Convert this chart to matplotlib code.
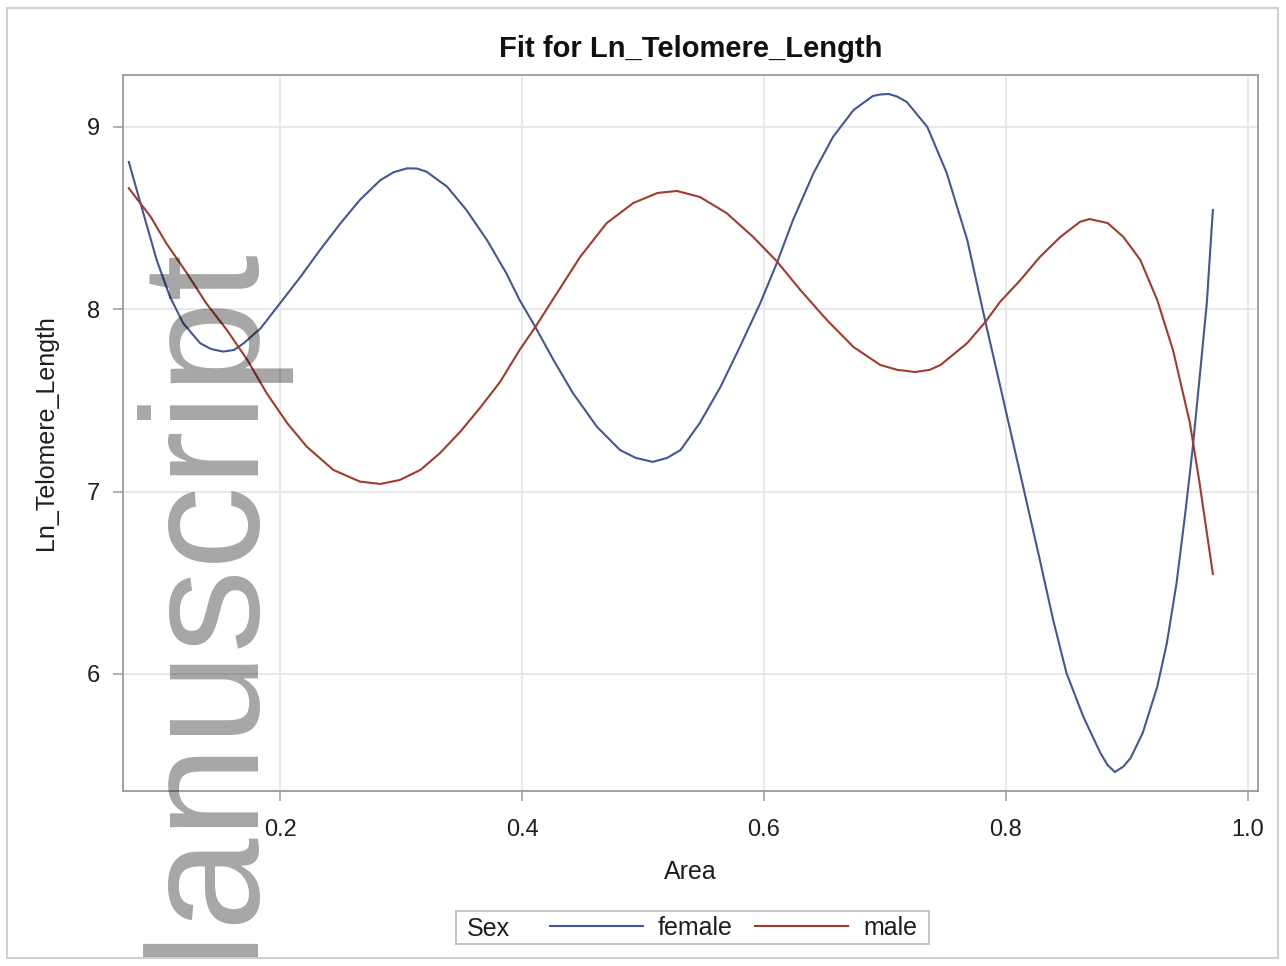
import matplotlib
matplotlib.use("Agg")
import matplotlib.pyplot as plt
from matplotlib.patches import Rectangle
from matplotlib.transforms import Bbox

plt.rcParams['font.family'] = ['Liberation Sans', 'DejaVu Sans']

# ---- data ----
female_area = [0.075, 0.087, 0.098, 0.109, 0.120, 0.134, 0.143, 0.153, 0.162, 0.170,
               0.184, 0.200, 0.217, 0.233, 0.250, 0.266, 0.283, 0.294, 0.305, 0.313,
               0.321, 0.338, 0.354, 0.371, 0.387, 0.398, 0.411, 0.426, 0.442, 0.462,
               0.481, 0.494, 0.508, 0.520, 0.531, 0.547, 0.564, 0.580, 0.597, 0.611,
               0.624, 0.641, 0.657, 0.674, 0.690, 0.696, 0.703, 0.710, 0.718, 0.735,
               0.751, 0.768, 0.783, 0.795, 0.812, 0.828, 0.839, 0.850, 0.864, 0.878,
               0.884, 0.890, 0.897, 0.903, 0.913, 0.925, 0.933, 0.941, 0.948, 0.954,
               0.960, 0.966, 0.971]
female_ln = [8.808, 8.527, 8.271, 8.069, 7.923, 7.814, 7.782, 7.768, 7.777, 7.814,
             7.896, 8.033, 8.179, 8.325, 8.472, 8.600, 8.709, 8.752, 8.773, 8.772,
             8.755, 8.673, 8.545, 8.380, 8.198, 8.051, 7.903, 7.722, 7.541, 7.355,
             7.228, 7.185, 7.163, 7.185, 7.228, 7.377, 7.574, 7.793, 8.035, 8.260,
             8.490, 8.748, 8.945, 9.093, 9.170, 9.178, 9.181, 9.167, 9.137, 9.000,
             8.748, 8.380, 7.931, 7.585, 7.091, 6.625, 6.296, 6.005, 5.764, 5.567,
             5.500, 5.462, 5.492, 5.539, 5.676, 5.929, 6.170, 6.499, 6.872, 7.218,
             7.623, 8.035, 8.545]

male_area = [0.075, 0.093, 0.106, 0.123, 0.139, 0.156, 0.173, 0.189, 0.206, 0.222,
             0.244, 0.266, 0.283, 0.299, 0.316, 0.332, 0.349, 0.365, 0.382, 0.398,
             0.411, 0.429, 0.448, 0.470, 0.492, 0.512, 0.528, 0.547, 0.569, 0.591,
             0.611, 0.630, 0.652, 0.674, 0.696, 0.710, 0.725, 0.737, 0.746, 0.768,
             0.783, 0.795, 0.812, 0.828, 0.845, 0.861, 0.869, 0.884, 0.897, 0.911,
             0.925, 0.938, 0.952, 0.960, 0.971]
male_ln = [8.664, 8.508, 8.362, 8.198, 8.033, 7.887, 7.722, 7.539, 7.375, 7.247,
           7.119, 7.055, 7.042, 7.064, 7.119, 7.210, 7.329, 7.457, 7.603, 7.777,
           7.903, 8.090, 8.287, 8.473, 8.583, 8.638, 8.649, 8.616, 8.528, 8.397,
           8.260, 8.106, 7.941, 7.793, 7.695, 7.668, 7.656, 7.668, 7.695, 7.815,
           7.931, 8.040, 8.161, 8.287, 8.397, 8.479, 8.495, 8.473, 8.397, 8.271,
           8.051, 7.777, 7.377, 7.047, 6.548]

x_ticks = [0.2, 0.4, 0.6, 0.8, 1.0]
x_tick_labels = ["0.2", "0.4", "0.6", "0.8", "1.0"]
y_ticks = [6, 7, 8, 9]
y_tick_labels = ["6", "7", "8", "9"]
series_names = ["female", "male"]
legend_title = "Sex"
title = "Fit for Ln_Telomere_Length"
x_label = "Area"
y_label = "Ln_Telomere_Length"
watermark = "Manuscript"

# ---- figure ----
W, H = 1286, 966
fig = plt.figure(figsize=(W / 100, H / 100), dpi=100)
fig.patch.set_facecolor("white")

ax = fig.add_axes([123 / W, 1 - 791 / H, (1258 - 123) / W, (791 - 75) / H])
ax.set_xlim(0.0702, 1.0083)
ax.set_ylim(5.358, 9.285)

frame_col = "#9a9a9a"
for s in ax.spines.values():
    s.set_color(frame_col)
    s.set_linewidth(1.3)

ax.set_xticks(x_ticks)
ax.set_xticklabels(x_tick_labels)
ax.set_yticks(y_ticks)
ax.set_yticklabels(y_tick_labels)
ax.tick_params(axis="both", length=7, width=1.1, color=frame_col,
               labelsize=17, labelcolor="#1e1e1e")
ax.tick_params(axis="x", pad=13.5)
ax.tick_params(axis="y", pad=9.5)
ax.grid(True, color="#e6e6e6", linewidth=1.3)
ax.set_axisbelow(True)

lf, = ax.plot(female_area, female_ln, color="#445694", linewidth=1.5,
              solid_joinstyle="round", zorder=3)
lm, = ax.plot(male_area, male_ln, color="#A23A2E", linewidth=1.5,
              solid_joinstyle="round", zorder=3)

ax.set_xlabel(x_label, fontsize=18, color="#1e1e1e")
ax.xaxis.set_label_coords(0.5, -0.0964)
ax.set_ylabel(y_label, fontsize=18, color="#1e1e1e")
ax.yaxis.set_label_coords(-0.0573, 0.5)

fig.text(690.5 / W, 1 - 57 / H, title, ha="center", va="baseline",
         fontsize=21, fontweight="bold", color="#111111")

# legend
fig.add_artist(Rectangle((456 / W, 1 - 944 / H), (929 - 456) / W, (944 - 911) / H,
                         fill=False, ec="#c0c0c0", lw=1.3, transform=fig.transFigure))
fig.text(467 / W, 1 - 936 / H, legend_title, ha="left", va="baseline",
         fontsize=18, color="#1e1e1e")
fig.legend(handles=[lf, lm], labels=series_names, ncol=2, loc="center left",
           bbox_to_anchor=(550 / W, 1 - 928 / H), frameon=False, borderpad=0,
           borderaxespad=0, handlelength=3.72, handletextpad=0.58,
           columnspacing=0.92, fontsize=18, labelcolor="#1e1e1e")

# outer border
fig.add_artist(Rectangle((7 / W, 1 - 958 / H), (1278 - 7) / W, (958 - 8) / H,
                         fill=False, ec="#d0d0d0", lw=1.5, transform=fig.transFigure))

# watermark
wm = fig.text(245 / W, 1 - 240 / H, watermark, rotation=90, rotation_mode="anchor",
              ha="right", va="baseline", fontsize=120, family="Liberation Sans",
              color="black", alpha=0.35, zorder=10)
wm.set_clip_box(Bbox.from_extents(0, H - 957, W, H))

fig.savefig("out.png", dpi=100)
